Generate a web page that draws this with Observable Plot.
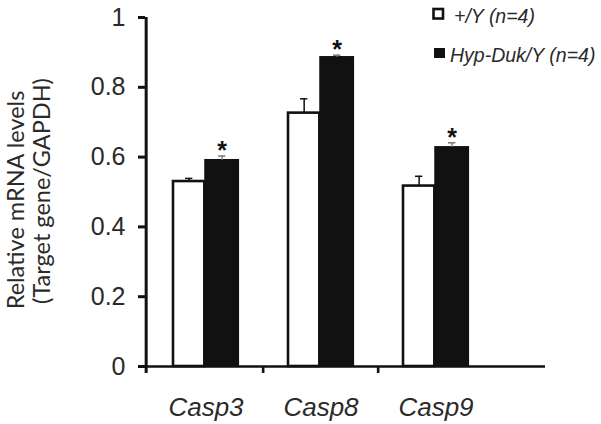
<!DOCTYPE html>
<html>
<head>
<meta charset="utf-8">
<script src="https://cdn.jsdelivr.net/npm/d3@7"></script>
<script src="https://cdn.jsdelivr.net/npm/@observablehq/plot@0.6"></script>
<style>
  html, body { margin: 0; padding: 0; background: #fff; }
  #wrap { position: relative; width: 601px; height: 424px; overflow: hidden; }
  #overlay { position: absolute; left: 0; top: 0; pointer-events: none; }
  g[aria-label="x-axis tick label"] text { font-style: italic; }
</style>
</head>
<body>
<div id="wrap"></div>
<script>
// ---- data ----
const categories = ["Casp3", "Casp8", "Casp9"];
const wtMean  = [0.530, 0.726, 0.517];
const wtErr   = [0.009, 0.041, 0.028];
const hypMean = [0.591, 0.886, 0.628];
const hypErr  = [0.012, 0.006, 0.013];
const significant = ["*", "*", "*"];
const yTicks = [0, 0.2, 0.4, 0.6, 0.8, 1];
const seriesLabels = ["+/Y (n=4)", "Hyp-Duk/Y (n=4)"];
const yTitle = ["Relative mRNA levels", "(Target gene/GAPDH)"];

// ---- layout constants ----
const W = 601, H = 424;
const mL = 145, mR = 56, mT = 17, mB = 58;
const xRange = [147, 494];
const bw = (xRange[1] - xRange[0]) / categories.length;
const wL = 25, mid = 57, hR = 91;          // offsets from band start
const wtOff = (wL + mid) / 2 - bw / 2;
const hypOff = (mid + hR) / 2 - bw / 2;
const capHalf = 4;

const wt = categories.map((c, i) => ({cat: c, v: wtMean[i], e: wtErr[i]}));
const hyp = categories.map((c, i) => ({cat: c, v: hypMean[i], e: hypErr[i], s: significant[i]}));

const ink = "#111";
const txt = "#2a2a2a";

const plot = Plot.plot({
  width: W, height: H,
  marginLeft: mL, marginRight: mR, marginTop: mT, marginBottom: mB,
  style: {fontFamily: "'Liberation Sans', Arial, sans-serif", background: "#fff", color: txt},
  x: {type: "band", domain: categories, range: xRange, padding: 0},
  y: {domain: [0, 1]},
  marks: [
    // bars
    Plot.barY(wt, {x: "cat", y: "v", fill: "#fff", stroke: ink, strokeWidth: 2.6,
      insetLeft: wL, insetRight: bw - mid}),
    Plot.barY(hyp, {x: "cat", y: "v", fill: ink, stroke: ink, strokeWidth: 1.5,
      insetLeft: mid, insetRight: bw - hR}),
    // error bars
    Plot.ruleX(wt, {x: "cat", y1: "v", y2: d => d.v + d.e, dx: wtOff, stroke: ink, strokeWidth: 1.5}),
    Plot.tickY(wt, {x: "cat", y: d => d.v + d.e, stroke: ink, strokeWidth: 1.5,
      insetLeft: bw / 2 + wtOff - capHalf, insetRight: bw / 2 - wtOff - capHalf}),
    Plot.ruleX(hyp, {x: "cat", y1: "v", y2: d => d.v + d.e, dx: hypOff, stroke: "#888", strokeWidth: 1.5}),
    Plot.tickY(hyp, {x: "cat", y: d => d.v + d.e, stroke: "#777", strokeWidth: 1.5,
      insetLeft: bw / 2 + hypOff - capHalf, insetRight: bw / 2 - hypOff - capHalf}),
    // significance
    Plot.text(hyp, {x: "cat", y: d => d.v + d.e, dx: hypOff, dy: 3, text: "s",
      fontSize: 25, fontWeight: "bold", fill: ink, lineAnchor: "bottom"}),
    // axes lines
    Plot.ruleY([0], {stroke: ink, strokeWidth: 2.6}),
    Plot.ruleX([categories[0]], {x: d => d, dx: -bw / 2 - 2, y1: -0.02, y2: 1, stroke: ink, strokeWidth: 3}),
    Plot.ruleX(categories.slice(1), {x: d => d, dx: -bw / 2, y1: 0, y2: -0.02, stroke: ink, strokeWidth: 2.6}),
    Plot.axisY({ticks: yTicks, tickFormat: d => String(d), tickSize: 7, tickPadding: 13,
      fontSize: 25, strokeWidth: 3, stroke: ink, fill: txt, label: null}),
    Plot.axisX({tickSize: 0, tickPadding: 31, fontSize: 26, fontStyle: "italic", fill: txt, label: null})
  ]
});

const wrap = document.getElementById("wrap");
wrap.appendChild(plot);

// ---- overlay: y title + legend ----
const ns = "http://www.w3.org/2000/svg";
const ov = document.createElementNS(ns, "svg");
ov.setAttribute("id", "overlay");
ov.setAttribute("width", W);
ov.setAttribute("height", H);
function t(str, attrs) {
  const e = document.createElementNS(ns, "text");
  for (const k in attrs) e.setAttribute(k, attrs[k]);
  e.textContent = str;
  ov.appendChild(e);
  return e;
}
function r(attrs) {
  const e = document.createElementNS(ns, "rect");
  for (const k in attrs) e.setAttribute(k, attrs[k]);
  ov.appendChild(e);
}
const titleFont = "Lato, 'Open Sans', sans-serif";
t(yTitle[0], {transform: "translate(24,200) rotate(-90)", "text-anchor": "middle",
  "font-family": titleFont, "font-size": 23.5, fill: txt});
t(yTitle[1], {transform: "translate(50,191) rotate(-90)", "text-anchor": "middle",
  "font-family": titleFont, "font-size": 23.5, fill: txt});

r({x: 433.5, y: 9, width: 9.5, height: 9.5, fill: "#fff", stroke: ink, "stroke-width": 2.6});
t(seriesLabels[0], {x: 454, y: 23, "font-family": "'Liberation Sans', Arial, sans-serif",
  "font-size": 19.5, "font-style": "italic", fill: txt});
r({x: 434, y: 48, width: 11, height: 10, fill: ink});
t(seriesLabels[1], {x: 450, y: 62, "font-family": "'Liberation Sans', Arial, sans-serif",
  "font-size": 19.5, "font-style": "italic", fill: txt});
wrap.appendChild(ov);
</script>
</body>
</html>
